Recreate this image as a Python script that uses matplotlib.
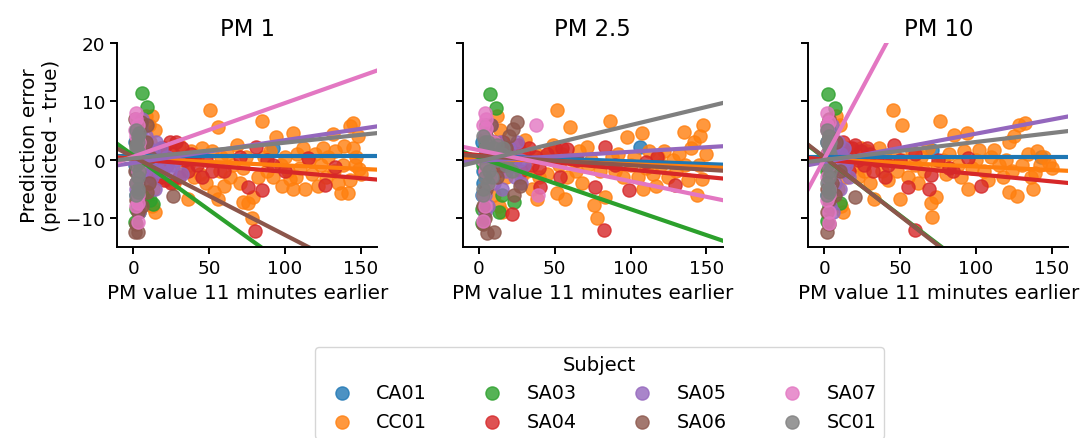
import matplotlib
matplotlib.use("Agg")
import matplotlib.pyplot as plt
import numpy as np

# subjects and panels
subjects = ["CA01", "CC01", "SA03", "SA04", "SA05", "SA06", "SA07", "SC01"]
panels = ["PM 1", "PM 2.5", "PM 10"]
colors = ["#1f77b4", "#ff7f0e", "#2ca02c", "#d62728",
          "#9467bd", "#8c564b", "#e377c2", "#7f7f7f"]

# ---- PM 1 scatter (x = PM value 11 min earlier, y = prediction error) ----
pm1_CA01 = [(1, 3), (2, -2), (2, 5), (3, 0), (3, -4), (4, 1), (2, -6), (3, 2), (1, -1), (4, -3), (92, 1.9)]
pm1_CC01 = [(8, 7.5), (10, 6), (12, 7.5), (14, 5), (11, 3), (9, -6), (12, -8), (14, -9), (13, -5), (16, -3),
            (18, 2), (20, -1), (22, -3.5), (25, 1), (27, -4), (30, 2.5), (32, -2), (36, -6.7), (36, -1), (38, 1.5),
            (40, -3), (42, 0.5), (44, -2.5), (45, 2), (48, -4), (50.5, 8.5), (52, 1.5), (53, -5.5), (56, 5.6),
            (56, -6.7), (57, -2), (58, 0.5), (60, -4.5), (62, 1), (64, -3), (66, -1), (68, 2.5), (70, -4),
            (72, -7.3), (72, -1.5), (74, 0.5), (75.7, -7.5), (78, -10), (79, -6.5), (82, -3), (84.5, 6.7),
            (86, 0.5), (88, -2), (90, 1.5), (92, -3), (94.3, 3.9), (97, -1), (98, -4.5), (100, 0.5), (102, -2),
            (103, -3.3), (105, 4.5), (105, -5), (107, -3), (108, 1), (110, -1.5), (112, 2), (113, -5), (116, 0),
            (118, -2.5), (120, 1), (122, -4.5), (124, -1), (125, 2), (127, -3), (128, 0.5), (131.6, 4.3),
            (132, -2), (133, 1.5), (135, -4), (137, -5.7), (138, -1), (139, 2.3), (141.4, -5.8), (142.6, 5.7),
            (143, -3.5), (144.7, 6.2), (145, 2), (146, -1), (148, 4), (149, -1.6), (150, -2.5), (147, 0.5)]
pm1_SA03 = [(5.5, 11.4), (8.8, 9.1), (3, 5), (4, 2), (4, -2), (6, -6), (13, -7.6), (2, -8.5), (1, -10.7),
            (4, -9), (11, -7), (5, 0), (7, 3), (3, -4)]
pm1_SA04 = [(15, -1), (18, -3), (20, 2), (22, -1), (24, 3), (26, 1), (28, 3), (30, -3), (32, 2), (34, 0),
            (36, -2), (38, 1), (40, 0.5), (42, -1), (45, -3), (48, 0), (52, -2), (60, -2), (70, 0.5),
            (75.5, -4.7), (80, -12.2), (81, 2.2), (85, -5.3), (88, 0), (92, -1), (100, -2), (115, 0.2),
            (126, -4.4), (132.7, -1.2), (12, -2), (25, -4), (20, -3.5)]
pm1_SA05 = [(2, -5), (3, 3), (4, -8), (5, 6), (6, -2), (7, 1), (8, 4), (9, -4), (10, 2), (11, -1), (12, -3),
            (13, 1.5), (14, -5), (15, 3), (16, 0), (17, -2), (18, 2), (20, -1.5), (22, 0.5), (24, -2),
            (26, -1), (28, 0), (32, -2.5), (3, -6.5), (4, -9), (5, 5), (6, 7)]
pm1_SA06 = [(1, -12.5), (2, -11), (3, -9), (2, -7), (4, -5), (1, -2), (3, 0), (2, 3), (4, 5), (1, 7),
            (5, 6.5), (9, 6), (10, -4), (9, -5.5), (26, -6.3), (3, -12.5), (2, -4), (8, 3), (11, 0.5), (6, -8)]
pm1_SA07 = [(2, 8), (3, 6), (2, 4), (3, 2), (2, 0), (3, -2), (2, -4), (3, -6), (2, -8), (3, -10.7), (1, 5),
            (4, -1), (2, 7), (4, 3), (3, -7.5)]
pm1_SC01 = [(2, 5), (3, 4), (3, 3), (2, 2), (4, 1), (3, 0), (2, -1), (4, -2), (3, -3), (2, -4), (3, -5),
            (2, -6), (4, 4.5), (3, -5.5), (2, 2.5), (3, 1.5), (4, -0.5)]

# ---- PM 2.5 scatter ----
pm25_CA01 = [(2, 3), (3, -2), (4, 4), (2, 0), (3, -4), (5, 1), (2, -6), (4, 2), (106.4, 2.2)]
pm25_CC01 = [(12, 7.5), (14, 5), (10, -6), (13, -8), (15, -9), (18, -3), (20, 2), (22, -1), (25, 1),
             (28, -3), (30.7, 3.3), (32, -2), (35, -5), (38.4, -6.7), (38, 1), (40, -3), (42, 0.5), (45, -2.5),
             (47, 1.5), (49, 2.5), (51.6, 8.5), (51.6, -5.8), (53, -1), (55, 1), (57, -6.7), (58, -3),
             (60.3, 5.6), (62, 0), (64, -2), (66, 1.5), (68, -4), (71.3, 2.2), (72, -1), (74, 0),
             (75.7, -7.8), (77.9, -10.1), (80, -2), (83.4, -6.4), (86.6, 6.7), (88, 0.5), (90, -2), (92, 1),
             (95, -3), (97.6, 3.9), (100, -1), (102, 0.5), (105, -3), (107.5, 4.5), (108.5, -5), (110, -1.5),
             (112, 1.5), (115, -2.5), (117, -4.5), (118, 0.5), (120, -1), (122, 1.5), (125, -3), (128, 0),
             (130, -2), (132, 1), (135, 4.8), (136, -1), (138, -3.5), (140, 2), (142, 3), (143.7, -6.1),
             (145, -1), (146, 4), (147, -3.3), (148, 5.9), (150, 1)]
pm25_SA03 = [(7.7, 11.3), (11.6, 8.9), (5, 6), (4, 2), (3, -1), (6, -4), (23, -7.3), (13.2, -9), (2, -10.8),
             (2, -8.5), (8, 0), (10, 3), (15, -6)]
pm25_SA04 = [(12, -2), (15, 1), (16, 3), (18, -1), (20, 2), (22, -9.3), (24, 0), (26, 2.5), (28, -2),
             (30, 1), (33, 2), (35, -1), (38, 0.5), (40, -1.5), (40.6, -4.7), (45, 1), (50, 2), (53.7, -3),
             (55, 2), (58, 1.8), (65, 0), (76.8, -4.7), (82.2, -12.1), (83.4, 2.2), (90, -1), (98.7, -5.3),
             (110, -0.5), (117.4, 0.5), (129.4, -4.4)]
pm25_SA05 = [(4, -6), (5, 4), (6, -2), (8, 2), (10, -4), (12, 0), (14, 3), (15, -5), (17, 1), (18, -2),
             (20, 2), (22, -1), (24, -3), (25, 3), (27, 0), (28, -4), (30, -1), (6, -8), (8, 6), (4, -9)]
pm25_SA06 = [(5.5, -12.6), (10, -12.4), (4, -10), (3, -8), (5, -5), (4, -2), (6, 1), (5, 4), (8, 6), (10, 3),
             (12, -3), (15, -1), (18, 2), (20, 4), (22.5, 5.3), (25.2, 6.5), (27.4, -4.6), (23, -6), (3, -11)]
pm25_SA07 = [(4, 8), (5, 7), (3, 6), (4, 4), (5, 2), (3, 0), (4, -2), (6, -4), (3, -6), (4, -8), (3, -10.5),
             (5, 5.5), (38, 6), (38.8, -6.1), (8, -3), (10, 3)]
pm25_SC01 = [(3, 4), (4, 3), (5, 2), (6, 3), (8, 1), (10, 2), (12, 0), (15, 1), (18, -1), (20, 0.5),
             (22, -2), (5, -1), (4, -3), (6, -4), (3, -6), (7, -2), (9, -3), (12, 2.5), (16, 2), (3, -5)]

# ---- PM 10 scatter ----
pm10_CA01 = [(2, 3), (3, -2), (4, 4), (2, 0), (3, -4), (5, 1), (2, -6), (71, 1.6), (143, 0.5)]
pm10_CC01 = [(8, 7.5), (10, 6), (9, -5), (11, -8), (12, -9), (14, -3), (16, 2), (18, -1), (20, 1), (22, -3),
             (24, 2), (26, -2), (28, 1.5), (30, -4), (33, -6.7), (34, 0), (36, 2), (38, -2), (40, 0.5),
             (42, -3.5), (45.4, 8.5), (46, 1), (48, -2), (50, -6.7), (51, 5.9), (52, 0), (55, -3), (58, 1.5),
             (60, -1), (62, -4), (64, 0.5), (66, -2), (68, 2), (70, -7.5), (71, -9.8), (73.5, -6.5), (74, -1),
             (76.4, 6.7), (78, 0), (80, -2.5), (82, 1), (85.3, 4.2), (88, -1), (90, -3), (92, 1.5), (94, 4.5),
             (95, -5), (97, -1.5), (100, 0), (102, 1.6), (105, -2), (108, -3.5), (110, 0.5), (112, 1.6),
             (115, -1), (118, -3), (120, 0), (122, 3), (122, -5.5), (124, -2), (125, 4), (127, -6.3),
             (128, 5.9), (130, -1), (132, 6.3), (134, 1), (136, -3), (137.6, -5), (139, -2.3), (140, 1.5),
             (142, -1), (145, 0.5), (148, -0.6), (150, -1.5)]
pm10_SA03 = [(2.2, 11.3), (7, 8.9), (3, 5), (4, 2), (2, -2), (5, -5), (10, -7.5), (3, -8), (2, -10.5),
             (4, 0), (6, 3)]
pm10_SA04 = [(10, -1), (12, 3), (14, 1), (16, -2), (18, 2), (20, 2.5), (22, 0), (24, 1.5), (26, -1), (28, 2),
             (30, 1), (32, -2), (35, 0), (40, -3), (42, -1), (46, 2.5), (50, 0), (55.4, -4.7), (59.8, -12.1),
             (68.7, -5), (70, -2.6), (75, 0), (82, -1.5), (95, 0.2), (103, -4.5), (85, -2), (60, 1)]
pm10_SA05 = [(3, -6), (4, 4), (5, -2), (6, 2), (7, -4), (8, 0), (9, 3), (10, -5), (11, 1), (12, -2),
             (13, 2), (14, -1), (15, 0), (16, -3), (5, 6), (4, -8), (6, -9)]
pm10_SA06 = [(2, -12.5), (3, -11), (2, -9), (3, -7), (2, -5), (3, -2), (2, 1), (3, 4), (2, 6), (3, 7),
             (5, -4), (7, -6), (8, 3), (20, -6.4), (10, -2)]
pm10_SA07 = [(2, 8), (3, 6.5), (2, 5), (3, 3), (2, 1), (3, -1), (2, -3), (3, -5), (2, -7), (3, -9),
             (3, -10.8), (2, 6), (3, -6)]
pm10_SC01 = [(2, 5), (3, 4), (2, 3), (3, 2), (4, 1), (3, 0), (2, -1), (4, -2), (3, -3), (2, -4), (3, -5),
             (2, -6), (4, 3), (3, -5.5), (3, 2.5)]

# fitted regression lines per panel: (intercept, slope) in subject order
pm1_fit = [(0.55, 0.0), (0.2, -0.012), (0.7, -0.187), (0.1, -0.022),
           (-0.57, 0.039), (0.45, -0.134), (0.5, 0.092), (0.2, 0.027)]
pm25_fit = [(0.64, -0.0094), (0.2, -0.010), (0.39, -0.089), (0.77, -0.025),
            (-0.24, 0.0157), (0.6, -0.0156), (1.62, -0.0534), (-0.33, 0.0624)]
pm10_fit = [(0.45, 0.0), (0.03, -0.0122), (0.3, -0.198), (0.0, -0.025),
            (-0.43, 0.0487), (0.39, -0.2015), (0.12, 0.485), (-0.06, 0.0308)]

scatter_data = [
    [pm1_CA01, pm1_CC01, pm1_SA03, pm1_SA04, pm1_SA05, pm1_SA06, pm1_SA07, pm1_SC01],
    [pm25_CA01, pm25_CC01, pm25_SA03, pm25_SA04, pm25_SA05, pm25_SA06, pm25_SA07, pm25_SC01],
    [pm10_CA01, pm10_CC01, pm10_SA03, pm10_SA04, pm10_SA05, pm10_SA06, pm10_SA07, pm10_SC01],
]
fits = [pm1_fit, pm25_fit, pm10_fit]

xlim = (-10.6, 160.8)
ylim = (-15, 20)

fig = plt.figure(figsize=(10.88, 4.39), dpi=100)
lefts = [0.1078, 0.4253, 0.7429]
axes = []
for i, name in enumerate(panels):
    ax = fig.add_axes([lefts[i], 0.4351, 0.239, 0.4647])
    axes.append(ax)
    for j, subj in enumerate(subjects):
        pts = np.array(scatter_data[i][j])
        ax.scatter(pts[:, 0], pts[:, 1], s=90, color=colors[j], alpha=0.8, label=subj)
        a, b = fits[i][j]
        xl = np.array(xlim)
        ax.plot(xl, a + b * xl, color=colors[j], lw=3)
    ax.set_xlim(xlim)
    ax.set_ylim(ylim)
    ax.set_xticks([0, 50, 100, 150])
    ax.set_yticks([-10, 0, 10, 20])
    ax.spines["top"].set_visible(False)
    ax.spines["right"].set_visible(False)
    for s in ["left", "bottom"]:
        ax.spines[s].set_linewidth(1.4)
    ax.tick_params(labelsize=13.2, length=5.25, width=1.4)
    ax.set_title(name, fontsize=16.4)
    ax.set_xlabel("PM value 11 minutes earlier", fontsize=14.4)
    if i == 0:
        ax.set_ylabel("Prediction error\n(predicted - true)", fontsize=14.4)
    else:
        ax.tick_params(labelleft=False)

handles, labels = axes[0].get_legend_handles_labels()
fig.legend(handles, labels, title="Subject", ncol=4, loc="upper center",
           bbox_to_anchor=(0.551, 1 - 348 / 439), fontsize=13.8, title_fontsize=14.1,
           columnspacing=2.4, borderaxespad=0)

fig.savefig("out.png", dpi=100)
